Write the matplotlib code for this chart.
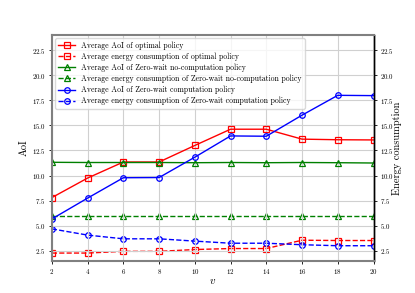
import matplotlib
matplotlib.use("Agg")
import matplotlib.pyplot as plt

plt.rcParams["font.family"] = "cmr10"
plt.rcParams["mathtext.fontset"] = "cm"
plt.rcParams["axes.formatter.use_mathtext"] = True

v = [2, 4, 6, 8, 10, 12, 14, 16, 18, 20]

aoi_opt = [7.8, 9.75, 11.35, 11.35, 13.0, 14.62, 14.62, 13.63, 13.57, 13.55]
energy_opt = [2.27, 2.27, 2.44, 2.44, 2.62, 2.72, 2.72, 3.55, 3.52, 3.52]
aoi_nocomp = [11.32, 11.3, 11.3, 11.3, 11.28, 11.3, 11.28, 11.3, 11.28, 11.25]
energy_nocomp = [5.97, 5.97, 5.97, 5.97, 5.97, 5.97, 5.97, 5.97, 5.97, 5.97]
aoi_comp = [5.67, 7.75, 9.78, 9.8, 11.83, 13.95, 13.92, 16.02, 18.0, 17.97]
energy_comp = [4.68, 4.06, 3.69, 3.69, 3.46, 3.25, 3.25, 3.1, 3.0, 3.0]

fig, ax1 = plt.subplots(figsize=(4.15, 2.93), dpi=100)
fig.subplots_adjust(left=0.125, right=0.9, top=0.88, bottom=0.11)
ax2 = ax1.twinx()

mk = dict(markersize=4, fillstyle="none", linewidth=1, markeredgewidth=0.9)
l1, = ax1.plot(v, aoi_opt, "-s", color="red", label="Average AoI of optimal policy", **mk)
l2, = ax2.plot(v, energy_opt, "--s", color="red", label="Average energy consumption of optimal policy", **mk)
l3, = ax1.plot(v, aoi_nocomp, "-^", color="green", label="Average AoI of Zero-wait no-computation policy", **mk)
l4, = ax2.plot(v, energy_nocomp, "--^", color="green", label="Average energy consumption of Zero-wait no-computation policy", **mk)
l5, = ax1.plot(v, aoi_comp, "-o", color="blue", label="Average AoI of Zero-wait computation policy", **mk)
l6, = ax2.plot(v, energy_comp, "--o", color="blue", label="Average energy consumption of Zero-wait computation policy", **mk)

yticks = [2.5, 5.0, 7.5, 10.0, 12.5, 15.0, 17.5, 20.0, 22.5]
for ax in (ax1, ax2):
    ax.set_xlim(2, 20)
    ax.set_ylim(1.5, 24)
    ax.set_yticks(yticks)
    ax.tick_params(labelsize=5, length=2.5, width=0.6, pad=2)
ax1.set_xticks(v)
ax1.grid(True, color="#d0d0d0", linewidth=0.8)
ax1.set_axisbelow(True)

for s in ax1.spines.values():
    s.set_color("#808080")
    s.set_linewidth(1.5)
ax1.spines["right"].set_color("black")
ax1.spines["right"].set_linewidth(1.0)
for name in ("left", "top", "bottom"):
    ax2.spines[name].set_visible(False)
ax2.spines["right"].set_color("black")
ax2.spines["right"].set_linewidth(1.0)

ax1.set_xlabel("$v$", fontsize=8, labelpad=0)
ax1.set_ylabel("AoI", fontsize=7.5, labelpad=2)
ax2.set_ylabel("Energy consumption", fontsize=7.5, labelpad=-1)

ax1.legend(handles=[l1, l2, l3, l4, l5, l6], loc="upper left", fontsize=5.6,
           framealpha=0.8, edgecolor="#d0d0d0", labelspacing=0.35, handlelength=2.2,
           borderaxespad=0.4)
ax1.set_zorder(ax2.get_zorder() + 1)
ax1.patch.set_visible(False)

fig.savefig("out.png", dpi=100)
